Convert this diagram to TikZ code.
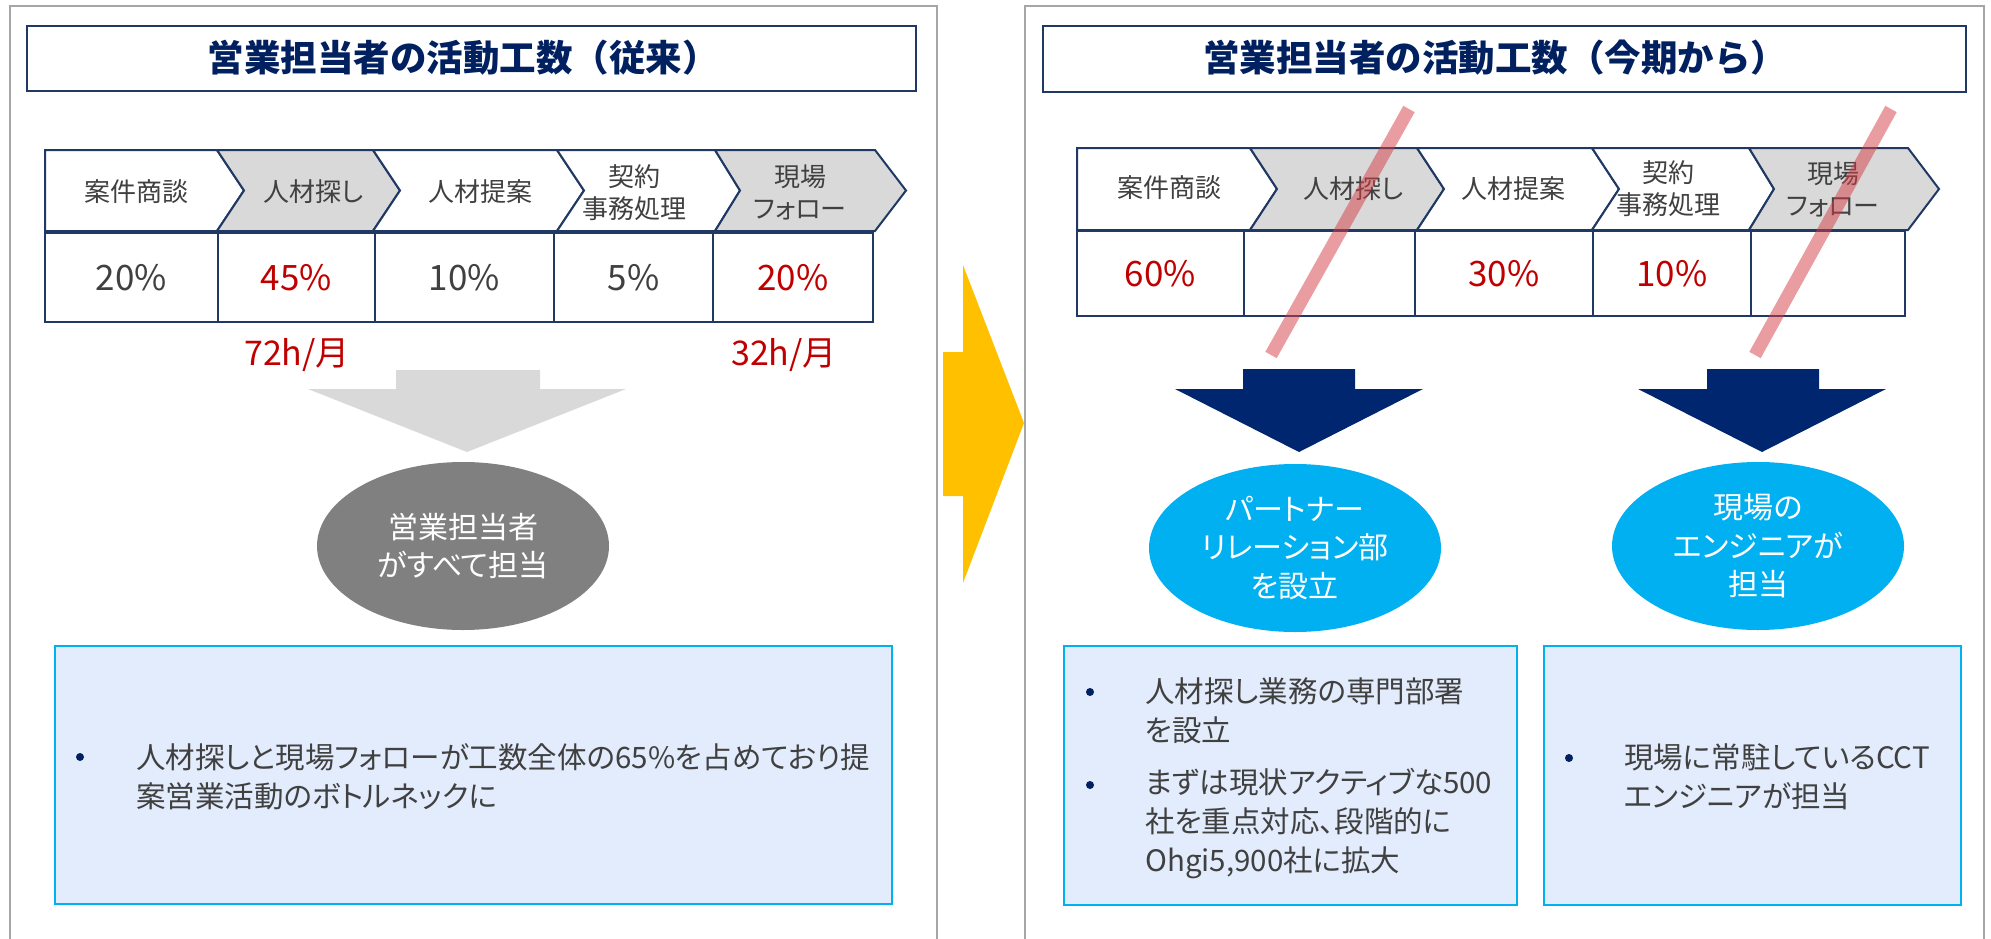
\documentclass[tikz,border=0pt]{standalone}
\usepackage{fontspec}
\newfontfamily\jp{Noto Sans CJK JP}[RawFeature=+palt]
\newfontfamily\jpf{Noto Sans CJK JP}
\definecolor{navy}{RGB}{0,32,96}
\definecolor{edge}{RGB}{31,56,100}
\definecolor{txt}{RGB}{64,64,64}
\definecolor{hred}{RGB}{192,0,0}
\definecolor{chevgray}{RGB}{217,217,217}
\definecolor{panelgray}{RGB}{166,166,166}
\definecolor{arrgray}{RGB}{217,217,217}
\definecolor{arrnavy}{RGB}{0,38,112}
\definecolor{ellgray}{RGB}{128,128,128}
\definecolor{cyanb}{RGB}{0,176,240}
\definecolor{boxfill}{RGB}{227,236,252}
\definecolor{yel}{RGB}{255,192,0}
\definecolor{strike}{RGB}{214,60,66}
\begin{document}
\begin{tikzpicture}[x=1pt,y=-1pt,
  panel/.style={draw=panelgray,line width=2.5pt},
  titlebox/.style={draw=edge,line width=2pt,fill=white},
  titletext/.style={inner sep=0pt,text=navy,font={\jpf\bfseries\fontsize{36.5}{40}\selectfont}},
  chev/.style={draw=edge,line width=2pt,line join=miter},
  chevtext/.style={inner sep=0pt,text=txt,align=center,font={\jp\fontsize{26}{32}\selectfont}},
  pbox/.style={draw=edge,line width=2pt,fill=white},
  pct/.style={inner sep=0pt,font={\jp\fontsize{35}{38}\selectfont}},
  hours/.style={inner sep=0pt,text=hred,font={\jp\fontsize{34}{38}\selectfont}},
  ell/.style={ellipse,inner sep=0pt,minimum width=292pt,minimum height=168pt},
  elltext/.style={inner sep=0pt,text=white,align=center,font={\jp\fontsize{30}{38.5}\selectfont}},
  infobox/.style={draw=cyanb,line width=2.5pt,fill=boxfill},
  bullettext/.style={inner sep=0pt,anchor=west,text=txt,align=left,font={\jp\fontsize{29.5}{39}\selectfont}},
  bulletdot/.style={circle,fill=navy,inner sep=0pt,minimum size=8pt},
  strikeline/.style={draw=strike,line width=13pt,opacity=0.5}
]
\useasboundingbox (0,0) rectangle (1991,939);
\usetikzlibrary{shapes.geometric}

% panels
\draw[panel] (10,945) -- (10,6) -- (937,6) -- (937,945);
\draw[panel] (1025,945) -- (1025,6) -- (1984,6) -- (1984,945);

% titles
\node[titlebox,minimum width=889pt,minimum height=65pt] (t1) at (471.5,58.5) {};
\node[titletext] (t1t) at (463,58) {営業担当者の活動工数（従来）};
\node[titlebox,minimum width=923pt,minimum height=66pt] (t2) at (1504.5,59) {};
\node[titletext] (t2t) at (1495,58) {営業担当者の活動工数（今期から）};

% yellow arrow
\fill[yel] (943,352) -- (963,352) -- (963,265) -- (1024,423) -- (963,583) -- (963,496) -- (943,496) -- cycle;

% left chevrons
\draw[chev,fill=white] (45,150) -- (217,150) -- (244,190.5) -- (217,231) -- (45,231) -- cycle;
\draw[chev,fill=chevgray] (217,150) -- (373,150) -- (400,190.5) -- (373,231) -- (217,231) -- (244,190.5) -- cycle;
\draw[chev,fill=white] (373,150) -- (557,150) -- (584,190.5) -- (557,231) -- (373,231) -- (400,190.5) -- cycle;
\draw[chev,fill=white] (557,150) -- (715,150) -- (740,190.5) -- (715,231) -- (557,231) -- (584,190.5) -- cycle;
\draw[chev,fill=chevgray] (715,150) -- (875,150) -- (906,190.5) -- (875,231) -- (715,231) -- (740,190.5) -- cycle;
\node[chevtext] (lc1) at (136,192) {案件商談};
\node[chevtext] (lc2) at (313,192) {人材探し};
\node[chevtext] (lc3) at (480,192) {人材提案};
\node[chevtext] (lc4) at (634,192.5) {契約\\事務処理};
\node[chevtext] (lc5) at (800,192.5) {現場\\フォロー};

% left percentages
\node[pbox,minimum width=173pt,minimum height=89pt] (lp1) at (131.5,277.5) {};
\node[pbox,minimum width=157pt,minimum height=89pt] (lp2) at (296.5,277.5) {};
\node[pbox,minimum width=179pt,minimum height=89pt] (lp3) at (464.5,277.5) {};
\node[pbox,minimum width=159pt,minimum height=89pt] (lp4) at (633.5,277.5) {};
\node[pbox,minimum width=160pt,minimum height=89pt] (lp5) at (793,277.5) {};
\node[pct,text=txt] at (lp1) {20\%};
\node[pct,text=hred] at (lp2) {45\%};
\node[pct,text=txt] at (lp3) {10\%};
\node[pct,text=txt] at (lp4) {5\%};
\node[pct,text=hred] at (lp5) {20\%};

\node[hours] (h1) at (297,355) {72h/月};
\node[hours] (h2) at (784,355) {32h/月};

% gray arrow and ellipse
\fill[arrgray] (396,370) -- (540,370) -- (540,389) -- (626,389) -- (467,452) -- (308,389) -- (396,389) -- cycle;
\node[ell,fill=ellgray] (e1) at (463,546) {};
\node[elltext] at (e1) {営業担当者\\がすべて担当};

% left info box
\draw[infobox] (55,646) rectangle (892,904);
\node[bulletdot] (lb1) at (80,757) {};
\node[bullettext] (lt1) at (136,777) {人材探しと現場フォローが工数全体の65\%を占めており提\\案営業活動のボトルネックに};

% right chevrons
\draw[chev,fill=white] (1077,148) -- (1250,148) -- (1277,189) -- (1250,230) -- (1077,230) -- cycle;
\draw[chev,fill=chevgray] (1250,148) -- (1417,148) -- (1444,189) -- (1417,230) -- (1250,230) -- (1277,189) -- cycle;
\draw[chev,fill=white] (1417,148) -- (1592,148) -- (1619,189) -- (1592,230) -- (1417,230) -- (1444,189) -- cycle;
\draw[chev,fill=white] (1592,148) -- (1749,148) -- (1774,189) -- (1749,230) -- (1592,230) -- (1619,189) -- cycle;
\draw[chev,fill=chevgray] (1749,148) -- (1908,148) -- (1939,189) -- (1908,230) -- (1749,230) -- (1774,189) -- cycle;
\node[chevtext] (rc1) at (1169,188) {案件商談};
\node[chevtext] (rc2) at (1353,189) {人材探し};
\node[chevtext] (rc3) at (1513,189) {人材提案};
\node[chevtext] (rc4) at (1668,189) {契約\\事務処理};
\node[chevtext] (rc5) at (1833,189) {現場\\フォロー};

% right percentages
\node[pbox,minimum width=167pt,minimum height=85pt] (rp1) at (1160.5,273.5) {};
\node[pbox,minimum width=171pt,minimum height=85pt] (rp2) at (1329.5,273.5) {};
\node[pbox,minimum width=178pt,minimum height=85pt] (rp3) at (1504,273.5) {};
\node[pbox,minimum width=158pt,minimum height=85pt] (rp4) at (1672,273.5) {};
\node[pbox,minimum width=154pt,minimum height=85pt] (rp5) at (1828,273.5) {};
\node[pct,text=hred] at (rp1) {60\%};
\node[pct,text=hred] at (rp3) {30\%};
\node[pct,text=hred] at (rp4) {10\%};

% strike lines
\draw[strikeline] (1409,109) -- (1271,355);
\draw[strikeline] (1891,109) -- (1755,355);

% navy arrows
\fill[arrnavy] (1243,369) -- (1355,369) -- (1355,389) -- (1423,389) -- (1299,452) -- (1175,389) -- (1243,389) -- cycle;
\fill[arrnavy] (1707,369) -- (1819,369) -- (1819,389) -- (1886,389) -- (1762,452) -- (1638,389) -- (1707,389) -- cycle;

% cyan ellipses
\node[ell,fill=cyanb] (e2) at (1295,548) {};
\node[elltext] at (e2) {パートナー\\リレーション部\\を設立};
\node[ell,fill=cyanb] (e3) at (1758,546) {};
\node[elltext] at (e3) {現場の\\エンジニアが\\担当};

% right info boxes
\draw[infobox] (1064,646) rectangle (1517,905);
\node[bulletdot] (rb1) at (1090,692) {};
\node[bullettext] (rt1) at (1145,711) {人材探し業務の専門部署\\を設立};
\node[bulletdot] (rb2) at (1090,785) {};
\node[bullettext] (rt2) at (1145,824) {まずは現状アクティブな500\\社を重点対応、段階的に\\Ohgi5,900社に拡大};

\draw[infobox] (1544,646) rectangle (1961,905);
\node[bulletdot] (rb3) at (1569,758) {};
\node[bullettext] (rt3) at (1624,777) {現場に常駐しているCCT\\エンジニアが担当};
\end{tikzpicture}
\end{document}
